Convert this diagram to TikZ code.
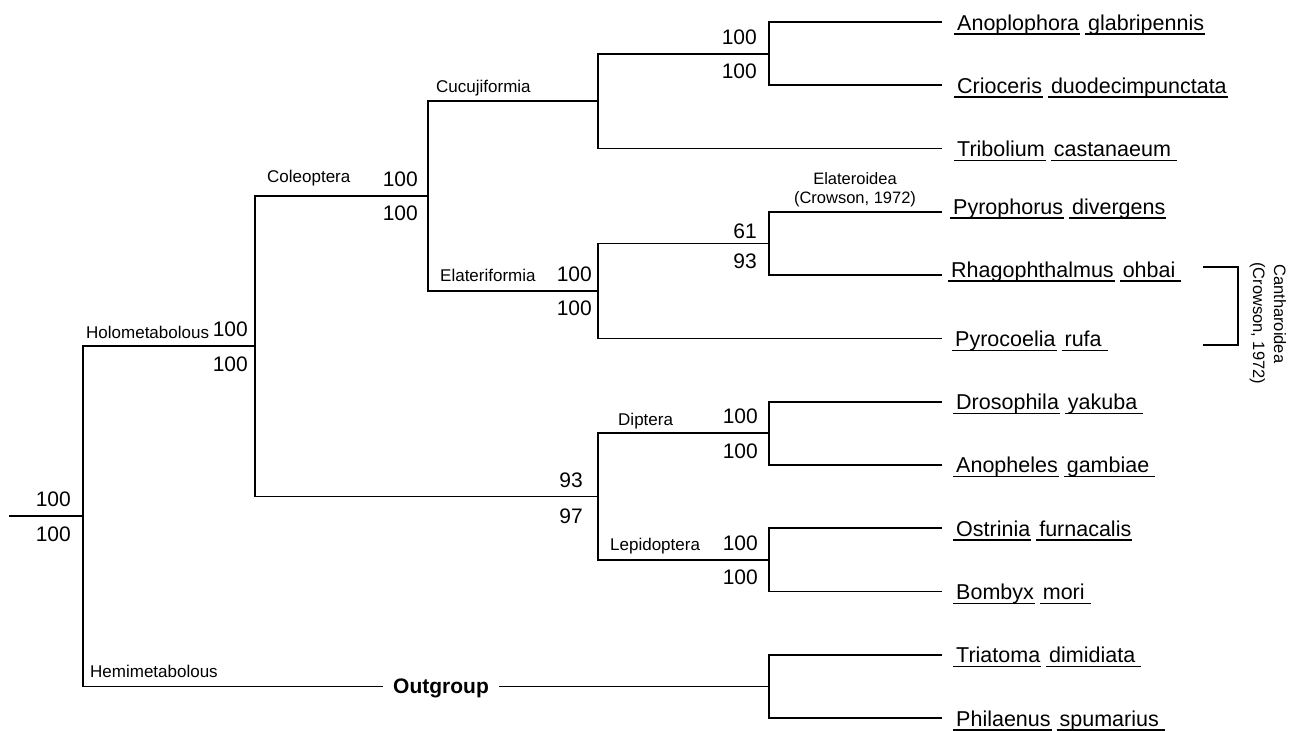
\documentclass[tikz,border=0pt]{standalone}
\usepackage{fontspec}
\setmainfont{Liberation Sans}
\newcommand\tul[1]{\setbox0\hbox{#1}\rlap{\kern-3pt\rule[-4.5pt]{\dimexpr\wd0+4pt\relax}{1.4pt}}\box0\relax}
\newcommand\tulx[1]{\setbox0\hbox{#1}\rlap{\kern-3pt\rule[-4.5pt]{\dimexpr\wd0+9pt\relax}{1.4pt}}\box0\relax}
\newcommand\wgap{\hspace{9pt}}
\tikzset{
  br/.style={line width=1.8pt},
  taxon/.style={anchor=base west, inner sep=0pt, font=\fontsize{21.5}{24}\selectfont},
  supv/.style={inner sep=0pt, font=\fontsize{21}{24}\selectfont},
  supup/.style={supv, anchor=south east},
  supdn/.style={supv, anchor=north east},
  clade/.style={anchor=base west, inner sep=0pt, font=\fontsize{17}{20}\selectfont},
  note/.style={inner sep=0pt, font=\fontsize{16.5}{19}\selectfont},
}
\begin{document}
\begin{tikzpicture}[x=1pt, y=-1pt]
\useasboundingbox (0,0) rectangle (1294,731);
% leaves
\coordinate (L0) at (942,22.0);
\coordinate (L1) at (942,85.3);
\coordinate (L2) at (942,148.5);
\coordinate (L3) at (942,211.8);
\coordinate (L4) at (942,275.1);
\coordinate (L5) at (942,338.4);
\coordinate (L6) at (942,401.6);
\coordinate (L7) at (942,464.9);
\coordinate (L8) at (942,528.2);
\coordinate (L9) at (942,591.4);
\coordinate (L10) at (942,654.7);
\coordinate (L11) at (942,718.0);
% internal nodes
\coordinate (ac) at (769,53.7);
\coordinate (cu) at (598,101.1);
\coordinate (eo) at (769,243.5);
\coordinate (ef) at (598,291.0);
\coordinate (c) at (428,196.0);
\coordinate (dp) at (769,433.3);
\coordinate (lp) at (769,559.8);
\coordinate (dl) at (598,496.5);
\coordinate (h) at (255,346.3);
\coordinate (og) at (769,686.4);
\coordinate (r) at (83,516.3);
\coordinate (r0) at (9,516.3);
% outgroup label
\node[font=\bfseries\fontsize{21}{24}\selectfont, text height=15pt, text depth=0pt, inner ysep=0pt, inner xsep=10pt] (OG) at (441,686.4) {Outgroup};
% branches
\draw[br] (r0) -- (r);
\draw[br] (r) |- (h);
\draw[br] (r) |- (OG.west);
\draw[br] (OG.east) -- (og);
\draw[br] (og) |- (L10);
\draw[br] (og) |- (L11);
\draw[br] (h) |- (c);
\draw[br] (h) |- (dl);
\draw[br] (c) |- (cu);
\draw[br] (c) |- (ef);
\draw[br] (cu) |- (ac);
\draw[br] (cu) |- (L2);
\draw[br] (ac) |- (L0);
\draw[br] (ac) |- (L1);
\draw[br] (ef) |- (eo);
\draw[br] (ef) |- (L5);
\draw[br] (eo) |- (L3);
\draw[br] (eo) |- (L4);
\draw[br] (dl) |- (dp);
\draw[br] (dl) |- (lp);
\draw[br] (dp) |- (L6);
\draw[br] (dp) |- (L7);
\draw[br] (lp) |- (L8);
\draw[br] (lp) |- (L9);
% taxa
\node[taxon] (T0) at (957,30) {\tul{Anoplophora}\wgap\tul{glabripennis}};
\node[taxon] (T1) at (957,93.3) {\tul{Crioceris}\wgap\tul{duodecimpunctata}};
\node[taxon] (T2) at (957,156.5) {\tul{Tribolium}\wgap\tulx{castanaeum}};
\node[taxon] (T3) at (953,214) {\tul{Pyrophorus}\wgap\tul{divergens}};
\node[taxon] (T4) at (951,277) {\tul{Rhagophthalmus}\wgap\tulx{ohbai}};
\node[taxon] (T5) at (955,346.4) {\tul{Pyrocoelia}\wgap\tulx{rufa}};
\node[taxon] (T6) at (956,409.6) {\tul{Drosophila}\wgap\tulx{yakuba}};
\node[taxon] (T7) at (956,472.9) {\tul{Anopheles}\wgap\tulx{gambiae}};
\node[taxon] (T8) at (956,536.2) {\tul{Ostrinia}\wgap\tul{furnacalis}};
\node[taxon] (T9) at (956,599.4) {\tul{Bombyx}\wgap\tulx{mori}};
\node[taxon] (T10) at (956,662.7) {\tul{Triatoma}\wgap\tulx{dimidiata}};
\node[taxon] (T11) at (956,726) {\tul{Philaenus}\wgap\tulx{spumarius}};
% support values
\node[supup] (sr1) at ([shift={(-12,-9)}]r) {100};
\node[supdn] (sr2) at ([shift={(-12,10)}]r) {100};
\node[supup] (sh1) at ([shift={(-7,-9)}]h) {100};
\node[supdn] (sh2) at ([shift={(-7,10)}]h) {100};
\node[supup] (sc1) at ([shift={(-10,-9)}]c) {100};
\node[supdn] (sc2) at ([shift={(-10,10)}]c) {100};
\node[supup] (sac1) at ([shift={(-12,-9)}]ac) {100};
\node[supdn] (sac2) at ([shift={(-12,10)}]ac) {100};
\node[supup] (seo1) at ([shift={(-12,-5)}]eo) {61};
\node[supdn] (seo2) at ([shift={(-12,10)}]eo) {93};
\node[supup] (sef1) at ([shift={(-6,-9)}]ef) {100};
\node[supdn] (sef2) at ([shift={(-6,10)}]ef) {100};
\node[supup] (sdl1) at ([shift={(-15,-9)}]dl) {93};
\node[supdn] (sdl2) at ([shift={(-15,12)}]dl) {97};
\node[supup] (sdp1) at ([shift={(-11,-9)}]dp) {100};
\node[supdn] (sdp2) at ([shift={(-11,10)}]dp) {100};
\node[supup] (slp1) at ([shift={(-11,-9)}]lp) {100};
\node[supdn] (slp2) at ([shift={(-11,10)}]lp) {100};
% clade labels
\node[clade] (cHolo) at (86,338) {Holometabolous};
\node[clade] (cCole) at (267,182) {Coleoptera};
\node[clade] (cCucu) at (436,92) {Cucujiformia};
\node[clade] (cElat) at (440,281) {Elateriformia};
\node[clade] (cDipt) at (618,425) {Diptera};
\node[clade] (cLepi) at (610,550) {Lepidoptera};
\node[clade] (cHemi) at (90,677) {Hemimetabolous};
% Elateroidea note
\node[note, anchor=base] (el1) at (855,184) {Elateroidea};
\node[note, anchor=base] (el2) at (855,203) {(Crowson, 1972)};
% Cantharoidea bracket
\coordinate (bt) at (1203,267);
\coordinate (bb) at (1203,345);
\draw[br] (bt) -- ++(35,0) |- (bb);
\node[note, anchor=base west, rotate=-90] (ca1) at (1274,264) {Cantharoidea};
\node[note, anchor=base west, rotate=-90] (ca2) at (1253,262) {(Crowson, 1972)};
\end{tikzpicture}
\end{document}
